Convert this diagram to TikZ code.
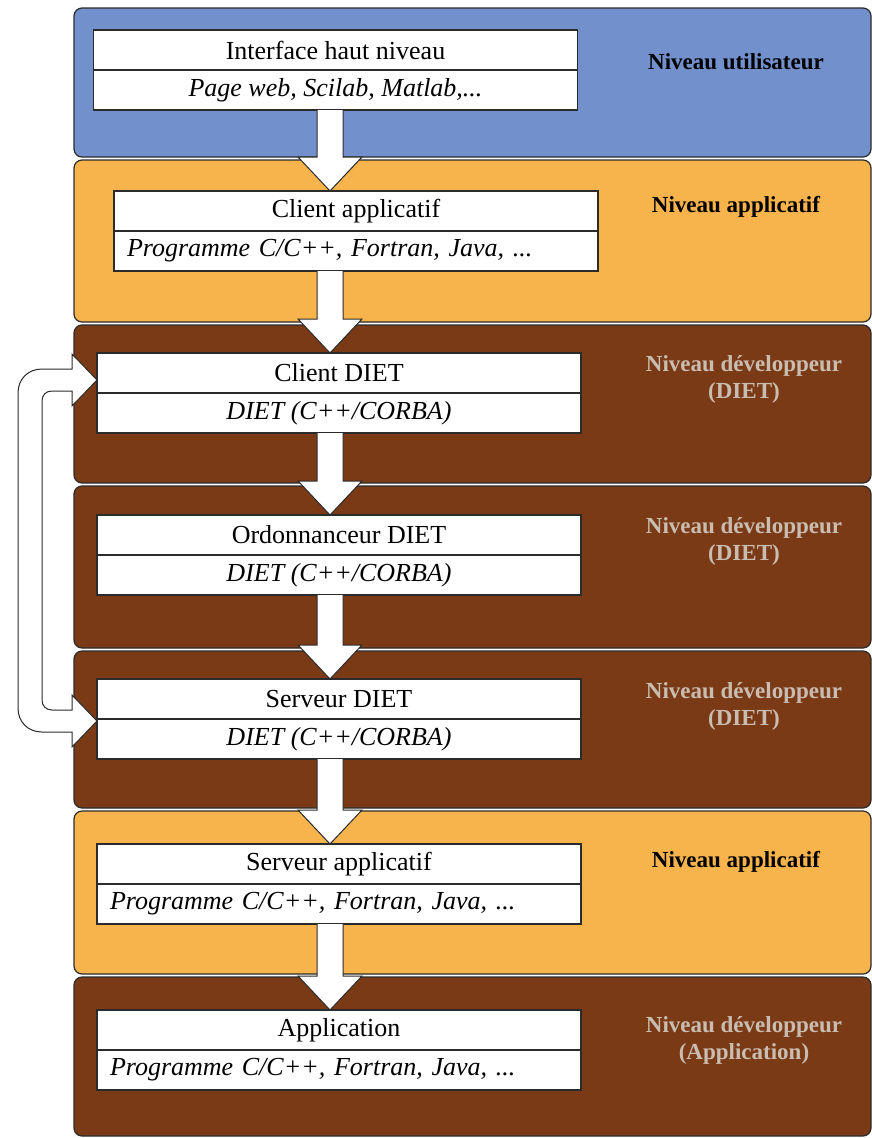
\documentclass[tikz,border=0pt]{standalone}
\usepackage{fontspec}
\setmainfont{Liberation Serif}
\usepackage{tikz}
\usetikzlibrary{positioning, calc}
\definecolor{LevelBlue}{HTML}{7290CC}
\definecolor{LevelOrange}{HTML}{F7B34C}
\definecolor{LevelBrown}{HTML}{7B3A16}
\definecolor{LevelGrey}{HTML}{C9BDB1}
\definecolor{EdgeDark}{HTML}{2B2B2B}
\tikzset{
    % Level bands with rounded corners
    band/.style={
        draw=EdgeDark,
        line width=1.2pt,
        rounded corners=8pt
    },
    band blue/.style={
        band,
        fill=LevelBlue
    },
    band orange/.style={
        band,
        fill=LevelOrange
    },
    band brown/.style={
        band,
        fill=LevelBrown
    },
    % White boxes, one row for the name, one for the technology
    layer head/.style={
        rectangle,
        draw=EdgeDark,
        fill=white,
        line width=1.2pt,
        minimum width=484pt,
        minimum height=40pt,
        inner sep=0pt,
        outer sep=0pt,
        align=center,
        font=\fontsize{26}{30}\selectfont
    },
    layer sub/.style={
        layer head,
        font=\fontsize{26}{30}\selectfont\itshape
    },
    layer sub left/.style={
        layer sub,
        text width=458pt,
        inner xsep=13pt,
        align=left
    },
    level label/.style={
        align=center,
        font=\fontsize{23}{27}\selectfont\bfseries
    },
    block arrow/.style={
        fill=white,
        draw=EdgeDark,
        line width=1pt,
        line join=miter
    }
}
% big white arrow from one box down to the next
\newcommand{\flowarrow}[2]{%
    \filldraw[block arrow]
        ($(#1.south -| spine)+(-13,0)$) -- ($(#2.north -| spine)+(-13,-34)$)
        -- ($(#2.north -| spine)+(-32,-34)$) -- (#2.north -| spine)
        -- ($(#2.north -| spine)+(32,-34)$) -- ($(#2.north -| spine)+(13,-34)$)
        -- ($(#1.south -| spine)+(13,0)$);
}

\begin{document}
\begin{tikzpicture}[x=1pt, y=-1pt]
        \useasboundingbox (0,0) rectangle (872,1138);

        % Level bands
        \draw[band blue] (74,8) rectangle (871,157);
        \draw[band orange] (74,160) rectangle (871,322);
        \draw[band brown] (74,325) rectangle (871,483);
        \draw[band brown] (74,486) rectangle (871,648);
        \draw[band brown] (74,651) rectangle (871,808);
        \draw[band orange] (74,811) rectangle (871,974);
        \draw[band brown] (74,977) rectangle (871,1136);

        % Boxes
        \node[layer head] (iface) at (335.5,50) {Interface haut niveau};
        \node[layer sub, below=0pt of iface] (ifacesub) {Page web, Scilab, Matlab,...};

        \node[layer head] (capp) at (356,211) {Client applicatif};
        \node[layer sub left, below=0pt of capp] (capsub) {Programme C/C++, Fortran, Java, ...};

        \node[layer head] (cdiet) at (339,373) {Client DIET};
        \node[layer sub, below=0pt of cdiet] (cdietsub) {DIET (C++/CORBA)};

        \node[layer head] (odiet) at (339,535) {Ordonnanceur DIET};
        \node[layer sub, below=0pt of odiet] (odietsub) {DIET (C++/CORBA)};

        \node[layer head] (sdiet) at (339,699) {Serveur DIET};
        \node[layer sub, below=0pt of sdiet] (sdietsub) {DIET (C++/CORBA)};

        \node[layer head] (sapp) at (339,864) {Serveur applicatif};
        \node[layer sub left, below=0pt of sapp] (sappsub) {Programme C/C++, Fortran, Java, ...};

        \node[layer head] (appli) at (339,1030) {Application};
        \node[layer sub left, below=0pt of appli] (applisub) {Programme C/C++, Fortran, Java, ...};

        % Arrows down the stack
        \coordinate (spine) at (330,0);
        \flowarrow{ifacesub}{capp}
        \flowarrow{capsub}{cdiet}
        \flowarrow{cdietsub}{odiet}
        \flowarrow{odietsub}{sdiet}
        \flowarrow{sdietsub}{sapp}
        \flowarrow{sappsub}{appli}

        % Loop between client and server
        \coordinate (tip1) at ($(cdiet.south west)+(0,-13)$);
        \coordinate (tip2) at ($(sdiet.south west)+(0,2)$);
        \filldraw[block arrow] (tip1) -- ($(tip1)+(-25,-26)$) -- ($(tip1)+(-25,-11)$)
            -- ($(tip1)+(-55,-11)$) .. controls ($(tip1)+(-69,-11)$) and ($(tip1)+(-79,-1)$) .. ($(tip1)+(-79,13)$)
            -- ($(tip2)+(-79,-13)$) .. controls ($(tip2)+(-79,1)$) and ($(tip2)+(-69,11)$) .. ($(tip2)+(-55,11)$)
            -- ($(tip2)+(-25,11)$) -- ($(tip2)+(-25,26)$) -- (tip2)
            -- ($(tip2)+(-25,-26)$) -- ($(tip2)+(-25,-11)$)
            -- ($(tip2)+(-45,-11)$) .. controls ($(tip2)+(-51,-11)$) and ($(tip2)+(-55,-15)$) .. ($(tip2)+(-55,-21)$)
            -- ($(tip1)+(-55,21)$) .. controls ($(tip1)+(-55,15)$) and ($(tip1)+(-51,11)$) .. ($(tip1)+(-45,11)$)
            -- ($(tip1)+(-25,11)$) -- ($(tip1)+(-25,26)$) -- cycle;

        % Level labels
        \node[level label] (lvuser) at (736,62) {Niveau utilisateur};
        \node[level label] (lvapp) at (736,207) {Niveau applicatif};
        \node[level label, text=LevelGrey] (lvdev1) at (744,379) {Niveau développeur\\(DIET)};
        \node[level label, text=LevelGrey] (lvdev2) at (744,541) {Niveau développeur\\(DIET)};
        \node[level label, text=LevelGrey] (lvdev3) at (744,706) {Niveau développeur\\(DIET)};
        \node[level label] (lvapp2) at (736,862) {Niveau applicatif};
        \node[level label, text=LevelGrey] (lvdev4) at (744,1040) {Niveau développeur\\(Application)};
\end{tikzpicture}
\end{document}
